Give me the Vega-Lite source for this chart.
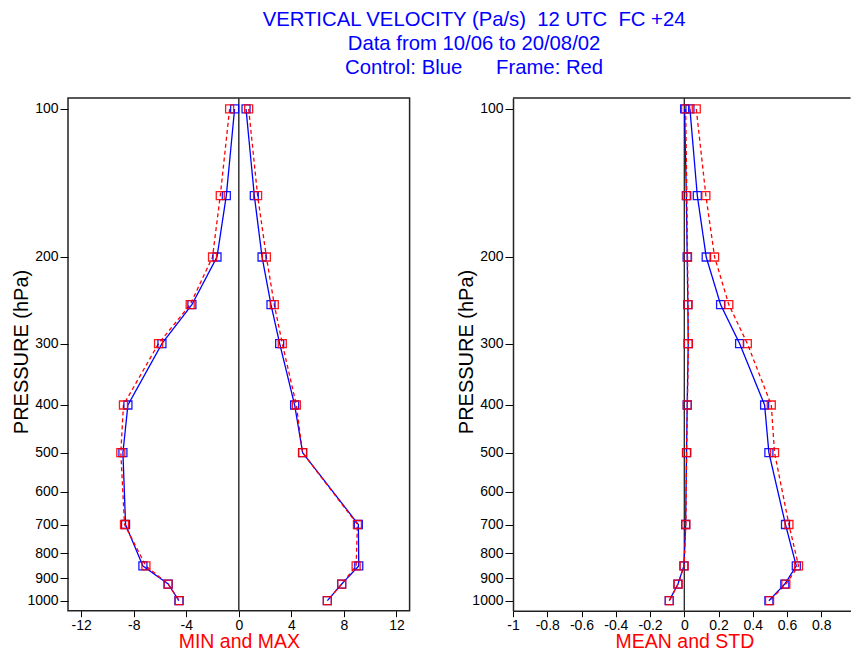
{
  "$schema": "https://vega.github.io/schema/vega-lite/v6.json",
  "background": "white",
  "padding": {"left": 11, "top": 10, "right": 0, "bottom": 0},
  "title": {
    "text": ["VERTICAL VELOCITY (Pa/s) \u00a012 UTC \u00a0FC +24", "Data from 10/06 to 20/08/02", "Control: Blue \u00a0\u00a0\u00a0\u00a0\u00a0Frame: Red"],
    "color": "#0000FF",
    "font": "Liberation Sans",
    "fontSize": 20.3,
    "fontWeight": "normal",
    "lineHeight": 24,
    "anchor": "start",
    "align": "center",
    "frame": "bounds",
    "baseline": "top",
    "dx": 463,
    "offset": 18
  },
  "config": {
    "font": "Liberation Sans",
    "view": {"stroke": "#222222", "strokeWidth": 1.5},
    "axis": {
      "grid": false,
      "labelFont": "Liberation Sans",
      "labelFontSize": 14,
      "labelColor": "black",
      "labelOverlap": false,
      "labelFlush": false,
      "tickColor": "black",
      "tickWidth": 1,
      "titleFont": "Liberation Sans",
      "titleFontWeight": "normal"
    }
  },
  "datasets": {
    "profiles": [
      {"p": 100, "run": "Control", "stat": "min", "v": -0.32},
      {"p": 150, "run": "Control", "stat": "min", "v": -0.95},
      {"p": 200, "run": "Control", "stat": "min", "v": -1.66},
      {"p": 250, "run": "Control", "stat": "min", "v": -3.57},
      {"p": 300, "run": "Control", "stat": "min", "v": -5.85},
      {"p": 400, "run": "Control", "stat": "min", "v": -8.44},
      {"p": 500, "run": "Control", "stat": "min", "v": -8.82},
      {"p": 700, "run": "Control", "stat": "min", "v": -8.62},
      {"p": 850, "run": "Control", "stat": "min", "v": -7.30},
      {"p": 925, "run": "Control", "stat": "min", "v": -5.37},
      {"p": 1000, "run": "Control", "stat": "min", "v": -4.56},
      {"p": 100, "run": "Control", "stat": "max", "v": 0.55},
      {"p": 150, "run": "Control", "stat": "max", "v": 1.18},
      {"p": 200, "run": "Control", "stat": "max", "v": 1.77},
      {"p": 250, "run": "Control", "stat": "max", "v": 2.45},
      {"p": 300, "run": "Control", "stat": "max", "v": 3.11},
      {"p": 400, "run": "Control", "stat": "max", "v": 4.25},
      {"p": 500, "run": "Control", "stat": "max", "v": 4.86},
      {"p": 700, "run": "Control", "stat": "max", "v": 9.10},
      {"p": 850, "run": "Control", "stat": "max", "v": 9.13},
      {"p": 925, "run": "Control", "stat": "max", "v": 7.83},
      {"p": 1000, "run": "Control", "stat": "max", "v": 6.74},
      {"p": 100, "run": "Control", "stat": "mean", "v": 0.002},
      {"p": 150, "run": "Control", "stat": "mean", "v": 0.012},
      {"p": 200, "run": "Control", "stat": "mean", "v": 0.017},
      {"p": 250, "run": "Control", "stat": "mean", "v": 0.021},
      {"p": 300, "run": "Control", "stat": "mean", "v": 0.023},
      {"p": 400, "run": "Control", "stat": "mean", "v": 0.017},
      {"p": 500, "run": "Control", "stat": "mean", "v": 0.013},
      {"p": 700, "run": "Control", "stat": "mean", "v": 0.008},
      {"p": 850, "run": "Control", "stat": "mean", "v": -0.002},
      {"p": 925, "run": "Control", "stat": "mean", "v": -0.037},
      {"p": 1000, "run": "Control", "stat": "mean", "v": -0.088},
      {"p": 100, "run": "Control", "stat": "std", "v": 0.033},
      {"p": 150, "run": "Control", "stat": "std", "v": 0.076},
      {"p": 200, "run": "Control", "stat": "std", "v": 0.128},
      {"p": 250, "run": "Control", "stat": "std", "v": 0.212},
      {"p": 300, "run": "Control", "stat": "std", "v": 0.323},
      {"p": 400, "run": "Control", "stat": "std", "v": 0.469},
      {"p": 500, "run": "Control", "stat": "std", "v": 0.494},
      {"p": 700, "run": "Control", "stat": "std", "v": 0.591},
      {"p": 850, "run": "Control", "stat": "std", "v": 0.654},
      {"p": 925, "run": "Control", "stat": "std", "v": 0.587},
      {"p": 1000, "run": "Control", "stat": "std", "v": 0.494},
      {"p": 100, "run": "Frame", "stat": "min", "v": -0.70},
      {"p": 150, "run": "Frame", "stat": "min", "v": -1.41},
      {"p": 200, "run": "Frame", "stat": "min", "v": -2.00},
      {"p": 250, "run": "Frame", "stat": "min", "v": -3.70},
      {"p": 300, "run": "Frame", "stat": "min", "v": -6.11},
      {"p": 400, "run": "Frame", "stat": "min", "v": -8.78},
      {"p": 500, "run": "Frame", "stat": "min", "v": -8.98},
      {"p": 700, "run": "Frame", "stat": "min", "v": -8.70},
      {"p": 850, "run": "Frame", "stat": "min", "v": -7.07},
      {"p": 925, "run": "Frame", "stat": "min", "v": -5.39},
      {"p": 1000, "run": "Frame", "stat": "min", "v": -4.53},
      {"p": 100, "run": "Frame", "stat": "max", "v": 0.75},
      {"p": 150, "run": "Frame", "stat": "max", "v": 1.43},
      {"p": 200, "run": "Frame", "stat": "max", "v": 2.10},
      {"p": 250, "run": "Frame", "stat": "max", "v": 2.70},
      {"p": 300, "run": "Frame", "stat": "max", "v": 3.31},
      {"p": 400, "run": "Frame", "stat": "max", "v": 4.38},
      {"p": 500, "run": "Frame", "stat": "max", "v": 4.85},
      {"p": 700, "run": "Frame", "stat": "max", "v": 9.03},
      {"p": 850, "run": "Frame", "stat": "max", "v": 8.93},
      {"p": 925, "run": "Frame", "stat": "max", "v": 7.83},
      {"p": 1000, "run": "Frame", "stat": "max", "v": 6.74},
      {"p": 100, "run": "Frame", "stat": "mean", "v": 0.008},
      {"p": 150, "run": "Frame", "stat": "mean", "v": 0.015},
      {"p": 200, "run": "Frame", "stat": "mean", "v": 0.019},
      {"p": 250, "run": "Frame", "stat": "mean", "v": 0.022},
      {"p": 300, "run": "Frame", "stat": "mean", "v": 0.024},
      {"p": 400, "run": "Frame", "stat": "mean", "v": 0.018},
      {"p": 500, "run": "Frame", "stat": "mean", "v": 0.014},
      {"p": 700, "run": "Frame", "stat": "mean", "v": 0.009},
      {"p": 850, "run": "Frame", "stat": "mean", "v": -0.001},
      {"p": 925, "run": "Frame", "stat": "mean", "v": -0.036},
      {"p": 1000, "run": "Frame", "stat": "mean", "v": -0.087},
      {"p": 100, "run": "Frame", "stat": "std", "v": 0.070},
      {"p": 150, "run": "Frame", "stat": "std", "v": 0.126},
      {"p": 200, "run": "Frame", "stat": "std", "v": 0.177},
      {"p": 250, "run": "Frame", "stat": "std", "v": 0.260},
      {"p": 300, "run": "Frame", "stat": "std", "v": 0.368},
      {"p": 400, "run": "Frame", "stat": "std", "v": 0.508},
      {"p": 500, "run": "Frame", "stat": "std", "v": 0.527},
      {"p": 700, "run": "Frame", "stat": "std", "v": 0.611},
      {"p": 850, "run": "Frame", "stat": "std", "v": 0.667},
      {"p": 925, "run": "Frame", "stat": "std", "v": 0.593},
      {"p": 1000, "run": "Frame", "stat": "std", "v": 0.498}
    ]
  },
  "spacing": 45,
  "hconcat": [
    {
      "width": 341.6,
      "height": 512.7,
      "layer": [
        {
          "data": {"values": [{"v": 0}]},
          "mark": {"type": "rule", "color": "#333333", "strokeWidth": 1.5},
          "encoding": {
            "x": {"field": "v", "type": "quantitative", "scale": {"domain": [-13, 13], "nice": false, "zero": false}}
          }
        },
        {
          "data": {"name": "profiles"},
          "transform": [{"filter": {"field": "stat", "oneOf": ["min", "max"]}}],
          "mark": {"type": "line", "strokeWidth": 1.3},
          "encoding": {
            "x": {"field": "v", "type": "quantitative"},
            "y": {"field": "p", "type": "quantitative"},
            "order": {"field": "p", "type": "quantitative"},
            "detail": {"field": "stat"},
            "color": {"field": "run", "type": "nominal", "scale": {"domain": ["Control", "Frame"], "range": ["#0000FF", "#FF0000"]}, "legend": null},
            "strokeDash": {"field": "run", "type": "nominal", "scale": {"domain": ["Control", "Frame"], "range": [[1, 0], [4, 3]]}, "legend": null}
          }
        },
        {
          "data": {"name": "profiles"},
          "transform": [{"filter": {"field": "stat", "oneOf": ["min", "max"]}}],
          "mark": {"type": "point", "shape": "square", "filled": false, "size": 64, "strokeWidth": 1.3, "opacity": 0.9},
          "encoding": {
            "x": {
              "field": "v", "type": "quantitative",
              "axis": {"values": [-12, -8, -4, 0, 4, 8, 12], "tickCount": 30, "labelExpr": "'' + datum.value", "labelOverlap": false, "labelFlush": false, "tickSize": 6, "labelPadding": 2, "domain": false, "title": "MIN and MAX", "titleColor": "#FF0000", "titleFontSize": 19.5, "titleBaseline": "alphabetic", "titleY": 36.5}
            },
            "y": {
              "field": "p", "type": "quantitative",
              "scale": {"type": "log", "domain": [95, 1048], "reverse": true, "nice": false},
              "axis": {"values": [100, 200, 300, 400, 500, 600, 700, 800, 900, 1000], "tickCount": 30, "labelExpr": "'' + datum.value", "labelOverlap": false, "tickSize": 8, "labelPadding": 2, "domain": false, "title": "PRESSURE (hPa)", "titleFontSize": 20, "titleColor": "black", "titleAngle": -90, "titleBaseline": "alphabetic", "titleAlign": "center", "titleX": -40.2, "titleY": 253.5}
            },
            "color": {"field": "run", "type": "nominal", "legend": null}
          }
        }
      ]
    },
    {
      "width": 337.6,
      "height": 512.7,
      "view": {"stroke": null},
      "layer": [
        {
          "data": {"values": [{"v": 0}]},
          "mark": {"type": "rule", "color": "#111111", "strokeWidth": 1.2},
          "encoding": {
            "x": {"field": "v", "type": "quantitative", "scale": {"domain": [-1, 0.971], "nice": false, "zero": false}}
          }
        },
        {
          "data": {"values": [{"p": 95}]},
          "mark": {"type": "rule", "color": "#222222", "strokeWidth": 1.5},
          "encoding": {
            "y": {"field": "p", "type": "quantitative"}
          }
        },
        {
          "data": {"name": "profiles"},
          "transform": [{"filter": {"field": "stat", "oneOf": ["mean", "std"]}}],
          "mark": {"type": "line", "strokeWidth": 1.3},
          "encoding": {
            "x": {"field": "v", "type": "quantitative"},
            "y": {"field": "p", "type": "quantitative"},
            "order": {"field": "p", "type": "quantitative"},
            "detail": {"field": "stat"},
            "color": {"field": "run", "type": "nominal", "scale": {"domain": ["Control", "Frame"], "range": ["#0000FF", "#FF0000"]}, "legend": null},
            "strokeDash": {"field": "run", "type": "nominal", "scale": {"domain": ["Control", "Frame"], "range": [[1, 0], [4, 3]]}, "legend": null}
          }
        },
        {
          "data": {"name": "profiles"},
          "transform": [{"filter": {"field": "stat", "oneOf": ["mean", "std"]}}],
          "mark": {"type": "point", "shape": "square", "filled": false, "size": 64, "strokeWidth": 1.3, "opacity": 0.9},
          "encoding": {
            "x": {
              "field": "v", "type": "quantitative",
              "axis": {"values": [-1, -0.8, -0.6, -0.4, -0.2, 0, 0.2, 0.4, 0.6, 0.8], "tickCount": 30, "labelExpr": "'' + datum.value", "labelOverlap": false, "labelFlush": false, "tickSize": 6, "labelPadding": 2, "domain": true, "domainColor": "#222222", "domainWidth": 1.5, "title": "MEAN and STD", "titleColor": "#FF0000", "titleFontSize": 19.5, "titleBaseline": "alphabetic", "titleY": 36.5, "titleX": 171.4}
            },
            "y": {
              "field": "p", "type": "quantitative",
              "scale": {"type": "log", "domain": [95, 1048], "reverse": true, "nice": false},
              "axis": {"values": [100, 200, 300, 400, 500, 600, 700, 800, 900, 1000], "tickCount": 30, "labelExpr": "'' + datum.value", "labelOverlap": false, "tickSize": 8, "labelPadding": 2, "domain": true, "domainColor": "#222222", "domainWidth": 1.5, "title": "PRESSURE (hPa)", "titleFontSize": 20, "titleColor": "black", "titleAngle": -90, "titleBaseline": "alphabetic", "titleAlign": "center", "titleX": -40.2, "titleY": 253.5}
            },
            "color": {"field": "run", "type": "nominal", "legend": null}
          }
        }
      ]
    }
  ]
}
